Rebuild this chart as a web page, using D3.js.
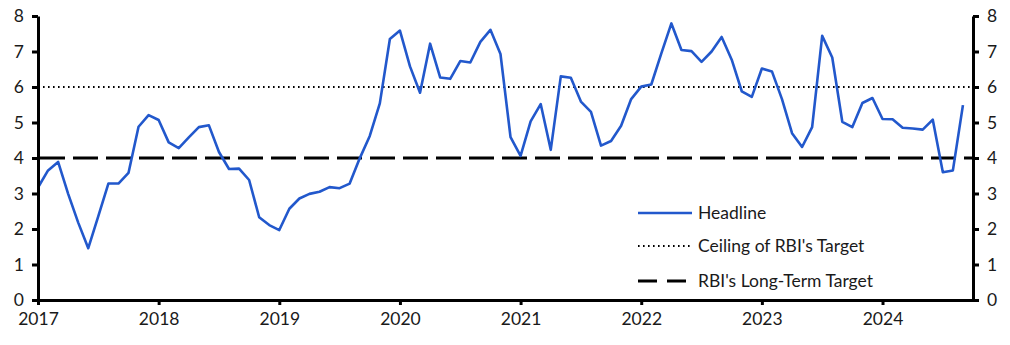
<!DOCTYPE html>
<html>
<head>
<meta charset="utf-8">
<script src="https://cdn.jsdelivr.net/npm/d3@7"></script>
<style>
  html, body { margin: 0; padding: 0; background: #fff; }
  svg { display: block; }
  text { font-family: Lato, "Open Sans", sans-serif; fill: #1a1a1a; }
</style>
</head>
<body>
<svg id="chart" width="1010" height="345"></svg>
<script>
// Monthly headline CPI inflation (% y/y), Jan 2017 – Sep 2024
const startYear = 2017;
const headline = [
  3.17, 3.65, 3.89, 2.99, 2.18, 1.46, 2.36, 3.28, 3.28, 3.58, 4.88, 5.21,
  5.07, 4.44, 4.28, 4.58, 4.87, 4.92, 4.17, 3.69, 3.70, 3.38, 2.33, 2.11,
  1.97, 2.57, 2.86, 2.99, 3.05, 3.18, 3.15, 3.28, 3.99, 4.62, 5.54, 7.35,
  7.59, 6.58, 5.84, 7.22, 6.27, 6.23, 6.73, 6.69, 7.27, 7.61, 6.93, 4.59,
  4.06, 5.03, 5.52, 4.23, 6.30, 6.26, 5.59, 5.30, 4.35, 4.48, 4.91, 5.66,
  6.01, 6.07, 6.95, 7.79, 7.04, 7.01, 6.71, 7.00, 7.41, 6.77, 5.88, 5.72,
  6.52, 6.44, 5.66, 4.70, 4.31, 4.87, 7.44, 6.83, 5.02, 4.87, 5.55, 5.69,
  5.10, 5.09, 4.85, 4.83, 4.80, 5.08, 3.60, 3.65, 5.49
];
const yearTicks = [2017, 2018, 2019, 2020, 2021, 2022, 2023, 2024];
const yTicks = [0, 1, 2, 3, 4, 5, 6, 7, 8];
const ceilingTarget = 6;
const longTermTarget = 4;
const legendLabels = ["Headline", "Ceiling of RBI's Target", "RBI's Long-Term Target"];

(function () {
const svg = d3.select("#chart");
const mLeft = 38, mRight = 973, mTop = 16, mBottom = 300;
const blue = "#2258cc";

const x = d3.scaleLinear().domain([0, 93]).range([mLeft, mRight]);
const y = d3.scaleLinear().domain([0, 8]).range([mBottom, mTop]);

// reference lines
svg.append("line")
  .attr("x1", mLeft).attr("x2", mRight)
  .attr("y1", y(ceilingTarget)).attr("y2", y(ceilingTarget))
  .attr("stroke", "#000").attr("stroke-width", 2)
  .attr("stroke-dasharray", "1.6,3.4");
svg.append("line")
  .attr("x1", mLeft + 2).attr("x2", mRight)
  .attr("y1", y(longTermTarget)).attr("y2", y(longTermTarget))
  .attr("stroke", "#000").attr("stroke-width", 3)
  .attr("stroke-dasharray", "25,8");

// headline line
const line = d3.line().x((d, i) => x(i)).y(d => y(d));
svg.append("path")
  .datum(headline)
  .attr("fill", "none")
  .attr("stroke", blue)
  .attr("stroke-width", 2.6)
  .attr("stroke-linejoin", "round")
  .attr("d", line);

// axes
const fontSize = "17.5px";
const xAxis = d3.axisBottom(x)
  .tickValues(yearTicks.map(yy => (yy - startYear) * 12))
  .tickFormat(v => String(startYear + v / 12))
  .tickSize(5).tickSizeOuter(0).tickPadding(8);
const gx = svg.append("g").attr("transform", `translate(0,${mBottom})`).call(xAxis);

const yAxisL = d3.axisLeft(y).tickValues(yTicks).tickFormat(d3.format("d"))
  .tickSize(6).tickSizeOuter(0).tickPadding(8);
const gyl = svg.append("g").attr("transform", `translate(${mLeft},0)`).call(yAxisL);

const yAxisR = d3.axisRight(y).tickValues(yTicks).tickFormat(d3.format("d"))
  .tickSize(6).tickSizeOuter(0).tickPadding(8);
const gyr = svg.append("g").attr("transform", `translate(${mRight},0)`).call(yAxisR);

[gx, gyl, gyr].forEach(g => {
  g.select(".domain").attr("stroke", "#000").attr("stroke-width", 3);
  g.selectAll(".tick line").attr("stroke", "#000").attr("stroke-width", 3);
  g.selectAll(".tick text").attr("font-size", fontSize)
    .attr("font-family", "Lato, 'Open Sans', sans-serif").attr("fill", "#1a1a1a");
});

// legend
const legendX = 638, legendY = [213, 246, 281];
const leg = svg.append("g");
const styles = [
  {stroke: blue, width: 2.6, dash: null},
  {stroke: "#000", width: 2, dash: "1.6,3.4"},
  {stroke: "#000", width: 3, dash: "19,10"}
];
legendLabels.forEach((lab, i) => {
  const s = styles[i];
  const l = leg.append("line")
    .attr("x1", legendX).attr("x2", legendX + 54)
    .attr("y1", legendY[i]).attr("y2", legendY[i])
    .attr("stroke", s.stroke).attr("stroke-width", s.width);
  if (s.dash) l.attr("stroke-dasharray", s.dash);
  leg.append("text")
    .attr("x", legendX + 60).attr("y", legendY[i])
    .attr("dy", "0.35em")
    .attr("font-size", fontSize)
    .text(lab);
});
})();
</script>
</body>
</html>
